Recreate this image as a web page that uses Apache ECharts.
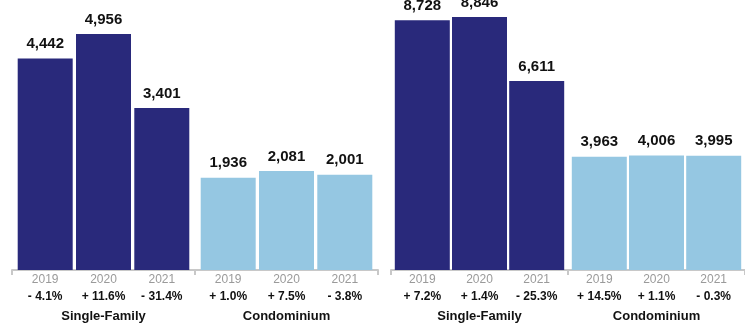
<!DOCTYPE html>
<html>
<head>
<meta charset="utf-8">
<script src="https://cdn.jsdelivr.net/npm/echarts@6/dist/echarts.min.js"></script>
<style>
html,body{margin:0;padding:0;background:#fff;}
#c{width:745px;height:324px;}
</style>
</head>
<body>
<div id="c"></div>
<script>
var groups = ['Single-Family', 'Condominium'];
var years = ['2019', '2020', '2021'];

var leftSingleFamily = [4442, 4956, 3401];
var leftCondo = [1936, 2081, 2001];
var leftSingleFamilyChange = ['- 4.1%', '+ 11.6%', '- 31.4%'];
var leftCondoChange = ['+ 1.0%', '+ 7.5%', '- 3.8%'];

var rightSingleFamily = [8728, 8846, 6611];
var rightCondo = [3963, 4006, 3995];
var rightSingleFamilyChange = ['+ 7.2%', '+ 1.4%', '- 25.3%'];
var rightCondoChange = ['+ 14.5%', '+ 1.1%', '- 0.3%'];

var FONT = "'Liberation Sans', Arial, Helvetica, sans-serif";
var NAVY = '#29297b';
var LIGHT = '#95c7e2';

function fmt(v) { return String(v).replace(/\B(?=(\d{3})+(?!\d))/g, ','); }

var panels = [
  { sf: leftSingleFamily, co: leftCondo, sfc: leftSingleFamilyChange, coc: leftCondoChange, max: 5670, gap: '6%' },
  { sf: rightSingleFamily, co: rightCondo, sfc: rightSingleFamilyChange, coc: rightCondoChange, max: 9440, gap: '4%' }
];

var grids = [
  { left: 12, width: 366, top: 0, bottom: 54 },
  { left: 391, width: 361, top: 0, bottom: 54 }
];

var xAxes = [], yAxes = [], series = [];
panels.forEach(function (p, pi) {
  xAxes.push({
    type: 'category', gridIndex: pi, data: groups,
    axisLine: { show: true, lineStyle: { color: '#c8c8c8', width: 2 } },
    axisTick: { show: true, length: 5, lineStyle: { color: '#c8c8c8', width: 2 } },
    axisLabel: { margin: 40, fontFamily: FONT, fontSize: 13, fontWeight: 'bold', color: '#111' }
  });
  yAxes.push({ type: 'value', gridIndex: pi, min: 0, max: p.max, show: false, splitLine: { show: false } });
  years.forEach(function (y, i) {
    var stack = 'p' + pi + 'y' + i;
    series.push({
      type: 'bar', xAxisIndex: pi, yAxisIndex: pi, stack: stack, barWidth: 55, barGap: p.gap,
      data: [0, 0], silent: true,
      itemStyle: { color: 'rgba(0,0,0,0)' },
      label: {
        show: true, position: 'bottom', distance: 1, fontFamily: FONT,
        formatter: function (params) {
          var ch = params.dataIndex === 0 ? p.sfc[i] : p.coc[i];
          return '{y|' + y + '}\n{c|' + ch + '}';
        },
        rich: {
          y: { fontFamily: FONT, fontSize: 12, color: '#9a9a9a', lineHeight: 17, align: 'center' },
          c: { fontFamily: FONT, fontSize: 12, fontWeight: 'bold', color: '#111', lineHeight: 17, align: 'center' }
        }
      }
    });
    series.push({
      type: 'bar', xAxisIndex: pi, yAxisIndex: pi, stack: stack, barWidth: 55, barGap: p.gap,
      data: [p.sf[i], p.co[i]],
      itemStyle: { color: function (params) { return params.dataIndex === 0 ? NAVY : LIGHT; } },
      label: {
        show: true, position: 'top', distance: 7, fontFamily: FONT, fontSize: 15,
        fontWeight: 'bold', color: '#111',
        formatter: function (params) { return fmt(params.value); }
      }
    });
  });
});

var chart = echarts.init(document.getElementById('c'), null, { renderer: 'canvas' });
chart.setOption({
  animation: false,
  backgroundColor: '#fff',
  grid: grids,
  xAxis: xAxes,
  yAxis: yAxes,
  series: series
});
</script>
</body>
</html>
